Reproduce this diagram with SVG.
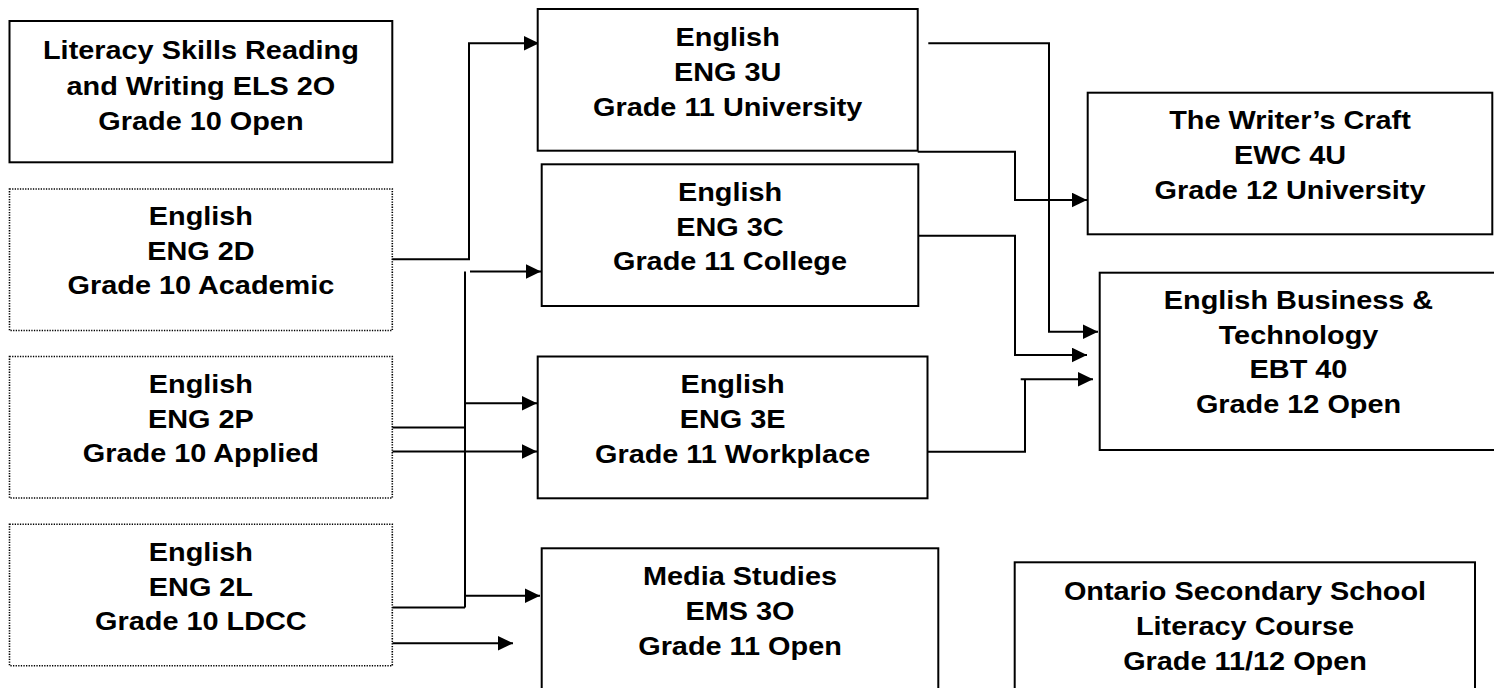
<svg xmlns="http://www.w3.org/2000/svg" width="1494" height="688" viewBox="0 0 1494 688">
<defs>
<marker id="arr" markerUnits="userSpaceOnUse" markerWidth="16" markerHeight="15" refX="15" refY="7.3" orient="auto">
<path d="M0,0 L15,7.3 L0,14.6 z" fill="#000"/>
</marker>
<style>
.box{fill:#fff;stroke:#000;stroke-width:2}
.dot{fill:#fff;stroke:#000;stroke-width:1.6;stroke-dasharray:1.3 1.3}
.t{font-family:"Liberation Sans",Arial,Helvetica,sans-serif;font-weight:bold;font-size:26px;text-anchor:middle;fill:#000}
.c{fill:none;stroke:#000;stroke-width:2}
.a{marker-end:url(#arr)}
</style>
</defs>
<rect width="1494" height="688" fill="#fff"/>

<g id="connectors">
<path class="c a" d="M392.3,259.3 H469 V43.3 H539"/>
<path class="c a" d="M470,271.5 H541"/>
<path class="c" d="M465,271.5 V607.5"/>
<path class="c a" d="M465,403.3 H537"/>
<path class="c" d="M392.3,427.5 H465"/>
<path class="c a" d="M392.3,451.5 H537"/>
<path class="c a" d="M465,595.7 H540"/>
<path class="c" d="M392.3,607.5 H465"/>
<path class="c a" d="M392.3,643.3 H513"/>
<path class="c a" d="M928.3,43.3 H1049 V331.7 H1098"/>
<path class="c a" d="M917.7,151.7 H1015 V200 H1087"/>
<path class="c a" d="M918.3,235.7 H1015 V355 H1087"/>
<path class="c" d="M927.5,451.7 H1025 V379.3"/>
<path class="c a" d="M1020.7,379.3 H1093"/>
</g>

<g id="els2o">
<rect class="box" x="9.5" y="21" width="382.8" height="141.3"/>
<text class="t" transform="translate(200.9 0) scale(1.11 1)"><tspan x="0" y="59.5">Literacy Skills Reading</tspan><tspan x="0" y="95">and Writing ELS 2O</tspan><tspan x="0" y="130">Grade 10 Open</tspan></text>
</g>

<g id="eng2d">
<rect class="dot" x="9.5" y="189" width="382.8" height="141.5"/>
<text class="t" transform="translate(200.9 0) scale(1.11 1)"><tspan x="0" y="225">English</tspan><tspan x="0" y="260">ENG 2D</tspan><tspan x="0" y="294.5">Grade 10 Academic</tspan></text>
</g>

<g id="eng2p">
<rect class="dot" x="9.5" y="356.5" width="382.8" height="141.5"/>
<text class="t" transform="translate(200.9 0) scale(1.11 1)"><tspan x="0" y="392.7">English</tspan><tspan x="0" y="427.7">ENG 2P</tspan><tspan x="0" y="462.3">Grade 10 Applied</tspan></text>
</g>

<g id="eng2l">
<rect class="dot" x="9.5" y="524.3" width="382.8" height="141.4"/>
<text class="t" transform="translate(200.9 0) scale(1.11 1)"><tspan x="0" y="561">English</tspan><tspan x="0" y="595.7">ENG 2L</tspan><tspan x="0" y="630">Grade 10 LDCC</tspan></text>
</g>

<g id="eng3u">
<rect class="box" x="537.7" y="9" width="380" height="141.7"/>
<text class="t" transform="translate(727.7 0) scale(1.11 1)"><tspan x="0" y="46">English</tspan><tspan x="0" y="81">ENG 3U</tspan><tspan x="0" y="115.7">Grade 11 University</tspan></text>
</g>

<g id="eng3c">
<rect class="box" x="541.7" y="164.3" width="376.6" height="141.7"/>
<text class="t" transform="translate(730 0) scale(1.11 1)"><tspan x="0" y="201">English</tspan><tspan x="0" y="235.7">ENG 3C</tspan><tspan x="0" y="270">Grade 11 College</tspan></text>
</g>

<g id="eng3e">
<rect class="box" x="537.7" y="356.5" width="389.8" height="141.8"/>
<text class="t" transform="translate(732.6 0) scale(1.11 1)"><tspan x="0" y="393.3">English</tspan><tspan x="0" y="428.3">ENG 3E</tspan><tspan x="0" y="462.7">Grade 11 Workplace</tspan></text>
</g>

<g id="ems3o">
<rect class="box" x="541.7" y="548.3" width="396.6" height="160"/>
<text class="t" transform="translate(740 0) scale(1.11 1)"><tspan x="0" y="585">Media Studies</tspan><tspan x="0" y="620">EMS 3O</tspan><tspan x="0" y="655">Grade 11 Open</tspan></text>
</g>

<g id="ewc4u">
<rect class="box" x="1087.7" y="92.7" width="404.6" height="141.6"/>
<text class="t" transform="translate(1290 0) scale(1.11 1)"><tspan x="0" y="129">The Writer’s Craft</tspan><tspan x="0" y="163.7">EWC 4U</tspan><tspan x="0" y="198.7">Grade 12 University</tspan></text>
</g>

<g id="ebt40">
<rect class="box" x="1099.7" y="272.7" width="398" height="177.3"/>
<text class="t" transform="translate(1298.5 0) scale(1.11 1)"><tspan x="0" y="309">English Business &amp;</tspan><tspan x="0" y="344">Technology</tspan><tspan x="0" y="378.5">EBT 40</tspan><tspan x="0" y="413">Grade 12 Open</tspan></text>
</g>

<g id="osslc">
<rect class="box" x="1014.7" y="562.3" width="460.3" height="150"/>
<text class="t" transform="translate(1245 0) scale(1.11 1)"><tspan x="0" y="600">Ontario Secondary School</tspan><tspan x="0" y="635">Literacy Course</tspan><tspan x="0" y="670">Grade 11/12 Open</tspan></text>
</g>
</svg>
